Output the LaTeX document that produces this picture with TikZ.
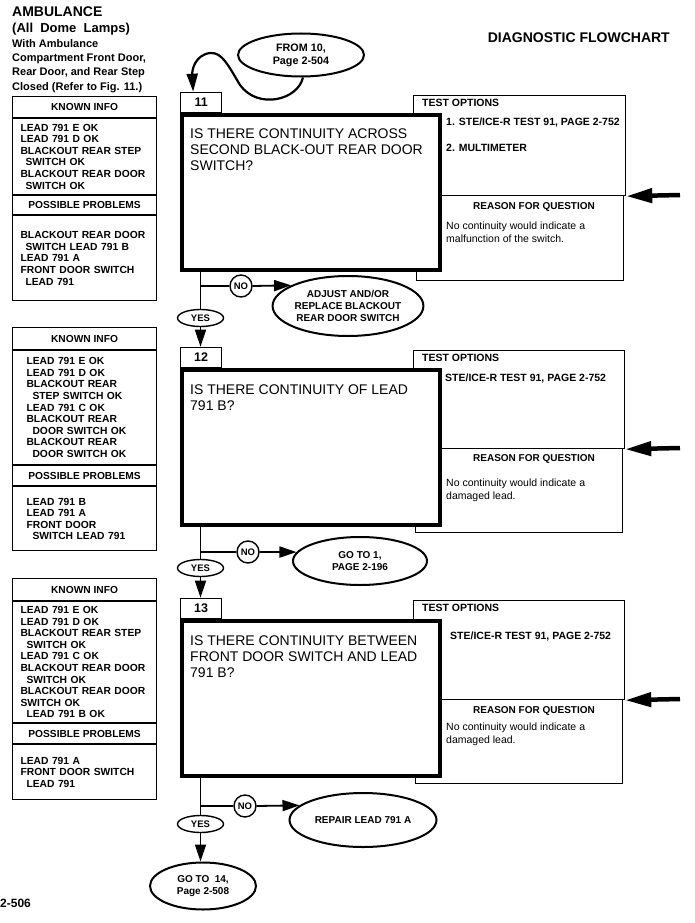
\documentclass[tikz,border=0pt]{standalone}
\usepackage{fontspec}
\setmainfont{Liberation Sans}
\usetikzlibrary{arrows.meta,shapes.geometric,calc}
\begin{document}
\begin{tikzpicture}[x=1pt,y=-1pt,
  hdr/.style={draw, line width=1.1pt, minimum width=144pt, anchor=north west, inner sep=0pt, font=\bfseries\fontsize{10.2}{12}\selectfont},
  body/.style={draw, line width=1.1pt, anchor=north west, inner ysep=0pt, align=left, font=\bfseries\fontsize{10.3}{11.6}\selectfont},
  qbox/.style={draw, line width=4.2pt, fill=white, minimum width=258pt, minimum height=155pt, anchor=north west, inner sep=0pt},
  tabbox/.style={draw, line width=1.3pt, minimum width=41pt, minimum height=20pt, anchor=south west, inner sep=0pt, font=\bfseries\fontsize{12.5}{14}\selectfont},
  qtext/.style={anchor=north west, inner sep=0pt, align=left, font=\fontsize{14}{16}\selectfont},
  tobox/.style={draw, line width=1.2pt, anchor=north west, inner sep=0pt},
  totext/.style={anchor=west, inner sep=0pt, font=\bfseries\fontsize{10.5}{12}\selectfont},
  rqtext/.style={anchor=center, inner sep=0pt, font=\bfseries\fontsize{10}{12}\selectfont},
  rtext/.style={anchor=north west, inner sep=0pt, align=left, font=\fontsize{10.5}{13}\selectfont},
  oval/.style={ellipse, draw, line width=2pt, align=center, inner sep=0pt, font=\bfseries\fontsize{10}{12}\selectfont},
  nocirc/.style={circle, draw, line width=1.4pt, minimum size=22pt, inner sep=0pt, font=\bfseries\fontsize{9.5}{10}\selectfont},
  yesov/.style={ellipse, draw, line width=1.4pt, minimum width=46pt, minimum height=17pt, inner sep=0pt, font=\bfseries\fontsize{9.5}{10}\selectfont},
  flow/.style={line width=1.8pt},
  arr/.style={line width=1.8pt, -{Triangle[length=17pt,width=11pt]}},
  bigarr/.style={line width=4.5pt, -{Triangle[length=26pt,width=14pt]}}
]
\useasboundingbox (0,0) rectangle (694,923);
\fill[white] (0,0) rectangle (694,923);

% header texts
\node[anchor=west, inner sep=0pt, font=\bfseries\fontsize{14}{16}\selectfont] (t1) at (12,12) {AMBULANCE};
\node[anchor=west, inner sep=0pt, font=\bfseries\fontsize{13}{15}\selectfont, align=left] (t2) at (12,29) {(All\ \ Dome\ \ Lamps)};
\node[anchor=north west, inner sep=0pt, align=left, font=\bfseries\fontsize{11}{14.3}\selectfont] (t3) at (12,39.2) {With Ambulance\\Compartment Front Door,\\Rear Door, and Rear Step\\Closed (Refer to Fig. 11.)};
\node[anchor=east, inner sep=0pt, font=\bfseries\fontsize{14}{16}\selectfont] (title) at (670,38) {DIAGNOSTIC FLOWCHART};
\node[anchor=west, inner sep=0pt, font=\bfseries\fontsize{12}{14}\selectfont] (pg) at (0,903) {2-506};

% left box 1
\node[hdr, minimum height=21pt] (k1h) at (12,96) {KNOWN INFO};
\node[body, minimum height=76pt, text width=128pt, inner xsep=8pt] (k1b) at (k1h.south west) {LEAD 791 E OK\\LEAD 791 D OK\\BLACKOUT REAR STEP\\\hspace*{5pt}SWITCH OK\\BLACKOUT REAR DOOR\\\hspace*{5pt}SWITCH OK};
\node[hdr, minimum height=19pt] (p1h) at (k1b.south west) {POSSIBLE PROBLEMS};
\node[body, minimum height=85pt, text width=128pt, inner xsep=8pt] (p1b) at (p1h.south west) {BLACKOUT REAR DOOR\\\hspace*{5pt}SWITCH LEAD 791 B\\LEAD 791 A\\FRONT DOOR SWITCH\\\hspace*{5pt}LEAD 791};

% left box 2
\node[hdr, minimum height=22pt] (k2h) at (12,327) {KNOWN INFO};
\node[body, minimum height=114pt, text width=116pt, inner xsep=14pt] (k2b) at (k2h.south west) {LEAD 791 E OK\\LEAD 791 D OK\\BLACKOUT REAR\\\hspace*{6pt}STEP SWITCH OK\\LEAD 791 C OK\\BLACKOUT REAR\\\hspace*{6pt}DOOR SWITCH OK\\BLACKOUT REAR\\\hspace*{6pt}DOOR SWITCH OK};
\node[hdr, minimum height=20pt] (p2h) at (k2b.south west) {POSSIBLE PROBLEMS};
\node[body, minimum height=64pt, text width=116pt, inner xsep=14pt] (p2b) at (p2h.south west) {LEAD 791 B\\LEAD 791 A\\FRONT DOOR\\\hspace*{6pt}SWITCH LEAD 791};

% left box 3
\node[hdr, minimum height=22pt] (k3h) at (12,578) {KNOWN INFO};
\node[body, minimum height=121pt, text width=128pt, inner xsep=8pt] (k3b) at (k3h.south west) {LEAD 791 E OK\\LEAD 791 D OK\\BLACKOUT REAR STEP\\\hspace*{6pt}SWITCH OK\\LEAD 791 C OK\\BLACKOUT REAR DOOR\\\hspace*{6pt}SWITCH OK\\BLACKOUT REAR DOOR\\SWITCH OK\\\hspace*{6pt}LEAD 791 B OK};
\node[hdr, minimum height=20pt] (p3h) at (k3b.south west) {POSSIBLE PROBLEMS};
\node[body, minimum height=55pt, text width=128pt, inner xsep=8pt] (p3b) at (p3h.south west) {LEAD 791 A\\FRONT DOOR SWITCH\\\hspace*{6pt}LEAD 791};

% test option boxes
\node[tobox, minimum width=212pt, minimum height=100pt] (to1) at (413,95) {};
\node[tobox, minimum width=207pt, minimum height=85pt] (rq1) at (416,195) {};
\node[tobox, minimum width=211pt, minimum height=98pt] (to2) at (413,350) {};
\node[tobox, minimum width=207pt, minimum height=84pt] (rq2) at (415,448) {};
\node[tobox, minimum width=211pt, minimum height=99pt] (to3) at (413,600) {};
\node[tobox, minimum width=207pt, minimum height=84pt] (rq3) at (415,699) {};

% question boxes
\node[qbox] (q11) at (180,113) {};
\node[tabbox] (n11) at (q11.north west) {11};
\node[qtext] (q11t) at (190,128.5) {IS THERE CONTINUITY ACROSS\\SECOND BLACK-OUT REAR DOOR\\SWITCH?};
\node[qbox] (q12) at (180,368) {};
\node[tabbox] (n12) at (q12.north west) {12};
\node[qtext] (q12t) at (190,384.5) {IS THERE CONTINUITY OF LEAD\\791 B?};
\node[qbox] (q13) at (180,619) {};
\node[tabbox] (n13) at (q13.north west) {13};
\node[qtext] (q13t) at (190,636) {IS THERE CONTINUITY BETWEEN\\FRONT DOOR SWITCH AND LEAD\\791 B?};

% test option texts
\node[totext] (to1t) at (422,103) {TEST OPTIONS};
\node[totext] (to1a) at (446,123) {1. STE/ICE-R TEST 91, PAGE 2-752};
\node[totext] (to1b) at (446,148) {2. MULTIMETER};
\node[rqtext] (rq1t) at (534,207) {REASON FOR QUESTION};
\node[rtext] (rq1a) at (446,222) {No continuity would indicate a\\malfunction of the switch.};

\node[totext] (to2t) at (422,358) {TEST OPTIONS};
\node[totext] (to2a) at (445,379) {STE/ICE-R TEST 91, PAGE 2-752};
\node[rqtext] (rq2t) at (534,459) {REASON FOR QUESTION};
\node[rtext] (rq2a) at (446,479) {No continuity would indicate a\\damaged lead.};

\node[totext] (to3t) at (422,608) {TEST OPTIONS};
\node[totext] (to3a) at (450,637) {STE/ICE-R TEST 91, PAGE 2-752};
\node[rqtext] (rq3t) at (534,711) {REASON FOR QUESTION};
\node[rtext] (rq3a) at (446,723) {No continuity would indicate a\\damaged lead.};

% right arrows
\coordinate (r1) at (680,195);
\coordinate (r2) at (680,448);
\coordinate (r3) at (680,699);
\draw[bigarr] (r1) -- (to1.south east);
\draw[bigarr] (r2) -- (to2.south east);
\draw[bigarr] (r3) -- (to3.south east);

% entry oval
\node[oval, minimum width=126pt, minimum height=43pt, font=\bfseries\fontsize{10.8}{13}\selectfont] (o0) at (301,55) {FROM 10,\\Page 2-504};
\draw[line width=2.2pt, -{Triangle[length=18pt,width=11pt]}] (o0.275) .. controls (298,100) and (258,110) .. (240,85) .. controls (228,65) and (222,52) .. (210,53) .. controls (195,55) and (192,70) .. ($(n11.north)+(-8,0)$);

% section 1 flow
\node[yesov] (y1) at (200.5,318) {YES};
\node[nocirc] (no1) at (241,286) {NO};
\node[oval, minimum width=150pt, minimum height=60pt] (o1) at (348,306) {ADJUST AND/OR\\REPLACE BLACKOUT\\REAR DOOR SWITCH};
\draw[flow] (q11.south -| y1) -- (y1.north);
\draw[flow] (no1 -| y1) -- (no1.west);
\draw[arr] (no1.east) -- (o1.160);
\draw[arr] (y1.south) -- (y1.south |- n12.north);

% section 2 flow
\node[yesov] (y2) at (200.5,568) {YES};
\node[nocirc] (no2) at (248,552) {NO};
\node[oval, minimum width=134pt, minimum height=48pt] (o2) at (360,561) {GO TO 1,\\PAGE 2-196};
\draw[flow] (q12.south -| y2) -- (y2.north);
\draw[flow] (no2 -| y2) -- (no2.west);
\draw[arr] (no2.east) -- (o2.172);
\draw[arr] (y2.south) -- (y2.south |- n13.north);

% section 3 flow
\node[yesov] (y3) at (200.5,824) {YES};
\node[nocirc] (no3) at (245,806) {NO};
\node[oval, minimum width=147pt, minimum height=54pt] (o3) at (363,820) {REPAIR LEAD 791 A};
\node[oval, minimum width=106pt, minimum height=47pt] (o4) at (203,886) {GO TO\ \ 14,\\Page 2-508};
\draw[flow] (q13.south -| y3) -- (y3.north);
\draw[flow] (no3 -| y3) -- (no3.west);
\draw[arr] (no3.east) -- (o3.167);
\draw[arr] (y3.south) -- (y3.south |- o4.north);
\end{tikzpicture}
\end{document}
